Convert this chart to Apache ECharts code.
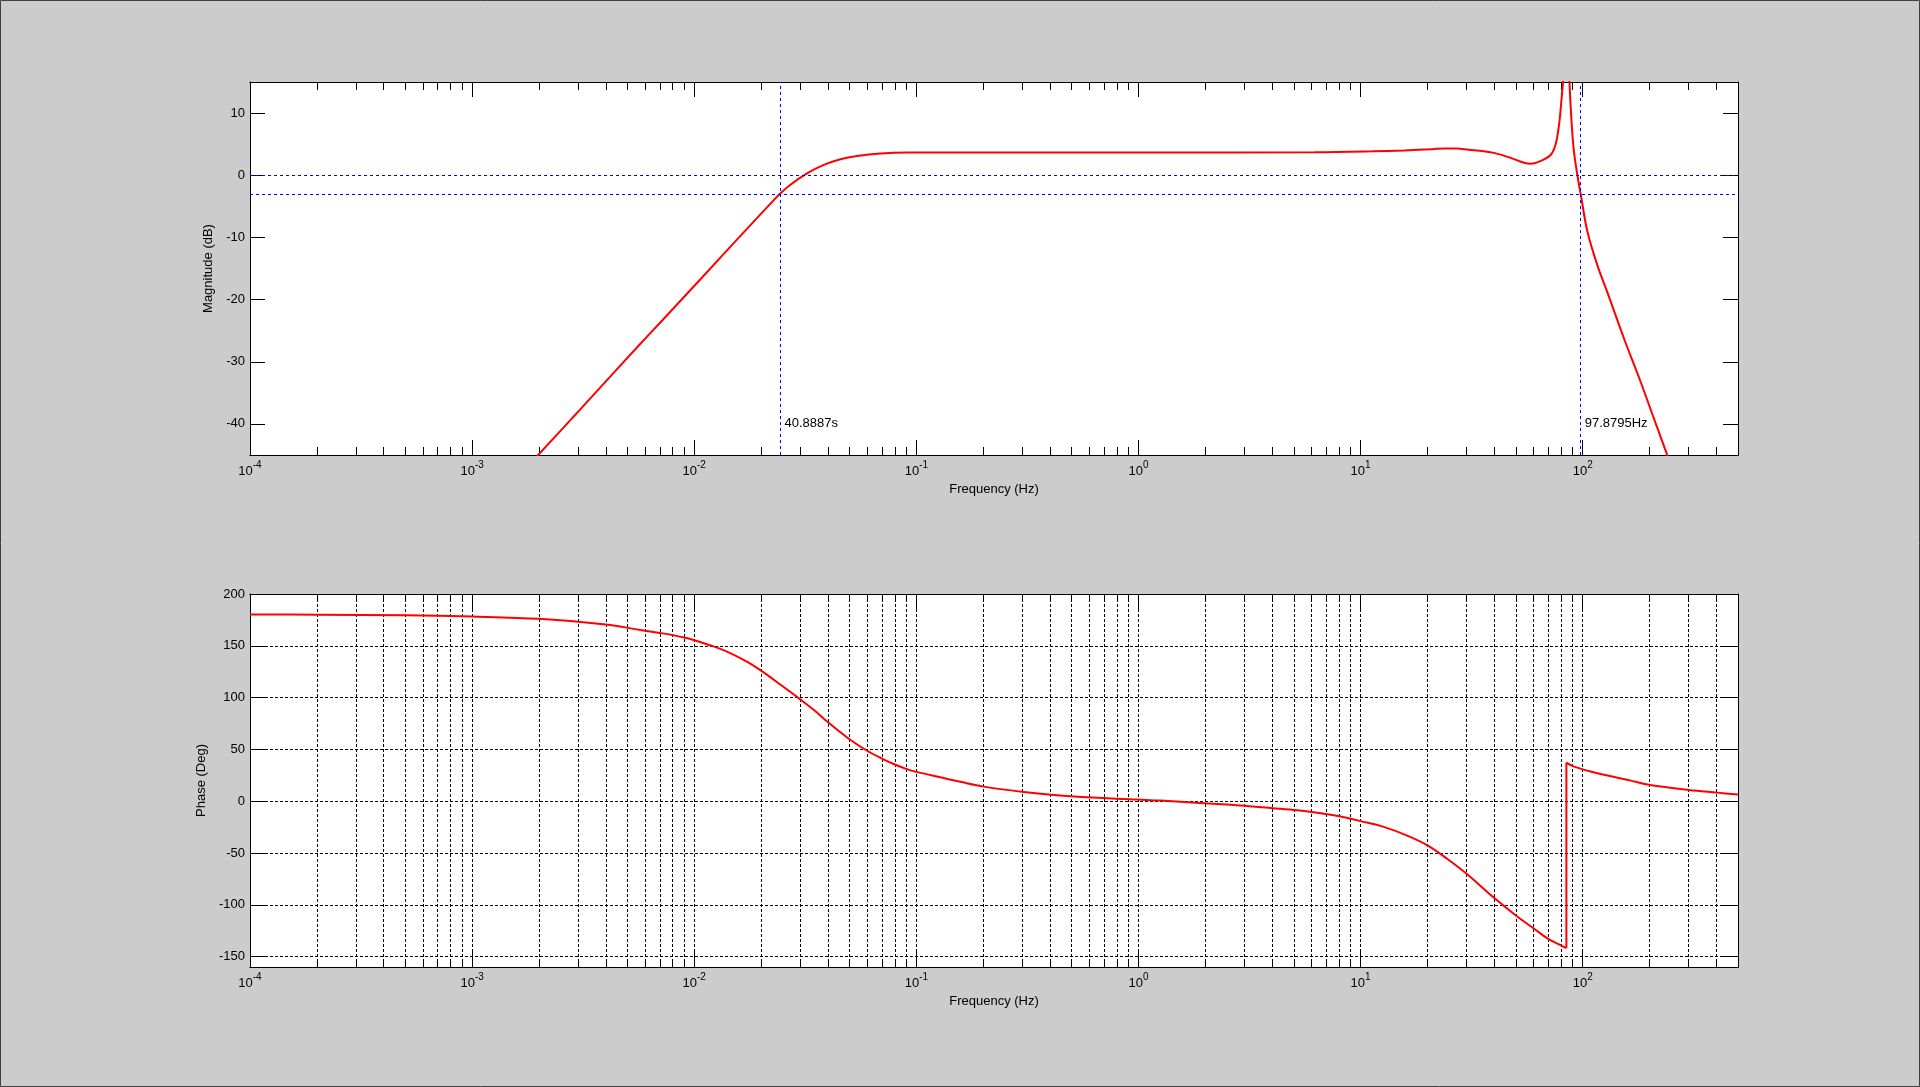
<!DOCTYPE html>
<html>
<head>
<meta charset="utf-8">
<script src="https://cdn.jsdelivr.net/npm/echarts@6/dist/echarts.min.js"></script>
<style>
html,body{margin:0;padding:0;background:#cccccc;}
#c{width:1920px;height:1087px;}
</style>
</head>
<body>
<div id="c"></div>
<script>
// ---------- data ----------
const decadeTicks = [1e-4, 1e-3, 1e-2, 1e-1, 1, 10, 100];
const minorMultipliers = [2, 3, 4, 5, 6, 7, 8, 9];
const magTicks = [-40, -30, -20, -10, 0, 10];
const phaseTicks = [-150, -100, -50, 0, 50, 100, 150, 200];

const freqMag = [0.00196, 0.00306, 0.00572, 0.00634, 0.00807, 0.0114, 0.0161, 0.0228, 0.02446, 0.027, 0.0322, 0.0383, 0.0455, 0.0541, 0.0689, 0.0908, 0.2, 1, 6.2, 11.3, 15.7, 21, 24, 27, 30.6, 35.9, 39.8, 47.4, 54.4, 58.5, 64.7, 71.8, 75.5, 78.2, 80.1, 81.5, 83.2, 84.4, 85.6, 87.1, 89.2, 91.3, 94.6, 97.88, 105, 116.4, 129, 153.5, 182.5, 209.4, 240.5, 250];
const magDb   = [-45.2, -37.7, -27.1, -25.4, -21.4, -15.6, -9.8, -4.0, -2.9, -1.56, 0.3, 1.66, 2.58, 3.1, 3.49, 3.65, 3.65, 3.65, 3.7, 3.85, 4.0, 4.2, 4.3, 4.3, 4.1, 3.85, 3.6, 2.8, 2.0, 1.85, 2.3, 3.3, 5.0, 8.1, 11.9, 15.2, 24, 30, 24, 15.2, 8.1, 3.8, 0, -3.0, -9.1, -14.5, -18.8, -26.3, -33.3, -39.2, -45.1, -47];

const freqPhase = [1e-4, 2e-4, 5e-4, 1e-3, 2e-3, 4e-3, 0.00572, 0.007, 0.008, 0.009, 0.01, 0.01222, 0.01452, 0.01726, 0.02, 0.0244, 0.03, 0.0345, 0.04, 0.05, 0.06, 0.07, 0.08, 0.09, 0.1, 0.128, 0.158, 0.201, 0.304, 0.511, 1, 1.26, 2.6, 4.03, 5.19, 7.33, 8.13, 10, 12.7, 16.2, 20, 24.5, 30, 40, 50, 60, 70, 80, 84.4, 84.4, 91.4, 116.4, 164.5, 201, 301, 404, 500];
const phaseDeg  = [180.3, 180, 179.5, 178.2, 176, 170.6, 165.3, 162.4, 160.3, 158.0, 155.4, 149.4, 143.0, 134.7, 126.0, 112.6, 98.3, 88.2, 76.2, 59.8, 48.7, 41.2, 35.4, 31.2, 28.3, 23.1, 18.7, 14.1, 9.0, 4.5, 1.6, 0.6, -3.5, -6.7, -8.7, -13.0, -14.8, -19.2, -24.8, -33.2, -42.6, -55.5, -70.0, -93.5, -110.3, -122.6, -132.9, -139.4, -141.8, 37.3, 33.4, 27, 19.9, 15.7, 10.9, 8.3, 6.4];

const refDb = [0, -3];
const cutPeriodSeconds = 40.8887;
const cutHighFreq = 97.8795;
const cutLabels = ['40.8887s', '97.8795Hz'];
const cutLabelDb = -40;

// ---------- chart ----------
const X_MIN = 1e-4, X_MAX = 500;
const FONT = 'Liberation Sans, Arial, Helvetica, sans-serif';
const minorTicks = [];
decadeTicks.forEach(d => minorMultipliers.forEach(m => {
  const v = m * d;
  if (v <= X_MAX) minorTicks.push(v);
}));
const cutLowFreq = 1 / cutPeriodSeconds;

const magPairs = freqMag.map((f, i) => [f, magDb[i]]);
const phasePairs = freqPhase.map((f, i) => [f, phaseDeg[i]]);
const jump = phasePairs.findIndex((p, i) => i + 1 < phasePairs.length && phasePairs[i + 1][0] === p[0]);
const phaseBefore = phasePairs.slice(0, jump + 1);
const phaseJump = phasePairs.slice(jump, jump + 2);
const phaseAfter = phasePairs.slice(jump + 1);

function decadeLabel(v) {
  const e = Math.round(Math.log10(v));
  return '{b|10}{s|' + e + '}';
}

function logAxis(grid, pos, ticks, len, withLabels, withSplit, name) {
  return {
    type: 'log', logBase: 10, gridIndex: grid, position: pos, min: X_MIN, max: X_MAX,
    axisLine: { show: true, onZero: false, lineStyle: { color: '#000', width: 1 } },
    axisTick: { show: true, inside: true, length: len, customValues: ticks, lineStyle: { color: '#000', width: 1 } },
    axisLabel: withLabels ? {
      show: true, customValues: ticks, formatter: decadeLabel, margin: 5,
      rich: {
        b: { fontSize: 13, lineHeight: 22, color: '#000', fontFamily: FONT },
        s: { fontSize: 10, lineHeight: 8, verticalAlign: 'top', color: '#000', fontFamily: FONT }
      }
    } : { show: false },
    splitLine: withSplit ? { show: true, lineStyle: { color: '#000', type: [3, 2], width: 1 } } : { show: false },
    minorTick: { show: false }, minorSplitLine: { show: false },
    name: name || '', nameLocation: 'middle', nameGap: 27.5,
    nameTextStyle: { fontSize: 13, color: '#000', fontFamily: FONT },
    silent: true
  };
}

function valAxis(grid, pos, min, max, ticks, withLabels, withSplit, name, gap) {
  return {
    type: 'value', gridIndex: grid, position: pos, min: min, max: max,
    axisLine: { show: true, onZero: false, lineStyle: { color: '#000', width: 1 } },
    axisTick: { show: true, inside: true, length: 15, customValues: ticks, lineStyle: { color: '#000', width: 1 } },
    axisLabel: withLabels ? { show: true, customValues: ticks, margin: 5, fontSize: 13, color: '#000', fontFamily: FONT } : { show: false },
    splitLine: withSplit ? { show: true, lineStyle: { color: '#000', type: [3, 2], width: 1 } } : { show: false },
    name: name || '', nameLocation: 'middle', nameGap: gap || 30,
    nameTextStyle: { fontSize: 13, color: '#000', fontFamily: FONT },
    silent: true
  };
}

function redLine(name, xi, yi, data, smooth) {
  return {
    name: name, type: 'line', xAxisIndex: xi, yAxisIndex: yi, data: data,
    showSymbol: false, symbol: 'none', clip: true, smooth: smooth,
    lineStyle: { color: '#ff0000', width: 2 }, itemStyle: { color: '#ff0000' }
  };
}

const chart = echarts.init(document.getElementById('c'), null, { renderer: 'canvas' });
const magSeries = redLine('Magnitude', 0, 0, magPairs, 0.35);
magSeries.markLine = {
  silent: true, symbol: 'none', precision: 8, label: { show: false },
  lineStyle: { color: '#0000ff', type: [3, 3], width: 1 },
  data: [
    { yAxis: refDb[0] }, { yAxis: refDb[1] },
    { xAxis: cutLowFreq }, { xAxis: cutHighFreq }
  ]
};
magSeries.markPoint = {
  silent: true, symbol: 'circle', symbolSize: 0,
  label: {
    show: true, position: 'right', distance: 4, formatter: p => p.name,
    fontSize: 13, color: '#000', fontFamily: FONT
  },
  data: [
    { name: cutLabels[0], coord: [cutLowFreq, cutLabelDb] },
    { name: cutLabels[1], coord: [cutHighFreq, cutLabelDb] }
  ]
};

chart.setOption({
  backgroundColor: '#cccccc',
  animation: false,
  textStyle: { fontFamily: FONT },
  graphic: [{
    type: 'rect', silent: true, z: 100,
    shape: { x: 0.5, y: 0.5, width: 1919, height: 1086 },
    style: { fill: null, stroke: '#404040', lineWidth: 1 }
  }],
  grid: [
    { left: 250, top: 82, width: 1488, height: 373, show: true, backgroundColor: '#ffffff', borderWidth: 0, containLabel: false },
    { left: 250, top: 594, width: 1488, height: 373, show: true, backgroundColor: '#ffffff', borderWidth: 0, containLabel: false }
  ],
  xAxis: [
    logAxis(0, 'bottom', decadeTicks, 15, true, false, 'Frequency (Hz)'),
    logAxis(0, 'bottom', minorTicks, 8, false, false),
    logAxis(0, 'top', decadeTicks, 15, false, false),
    logAxis(0, 'top', minorTicks, 8, false, false),
    logAxis(1, 'bottom', decadeTicks, 15, true, true, 'Frequency (Hz)'),
    logAxis(1, 'bottom', minorTicks, 8, false, true),
    logAxis(1, 'top', decadeTicks, 15, false, false),
    logAxis(1, 'top', minorTicks, 8, false, false)
  ],
  yAxis: [
    valAxis(0, 'left', -45, 15, magTicks, true, false, 'Magnitude (dB)', 25),
    valAxis(0, 'right', -45, 15, magTicks, false, false),
    valAxis(1, 'left', -160, 200, phaseTicks, true, true, 'Phase (Deg)', 32),
    valAxis(1, 'right', -160, 200, phaseTicks, false, false)
  ],
  series: [
    magSeries,
    redLine('Phase', 4, 2, phaseBefore, 0.35),
    redLine('Phase jump', 4, 2, phaseJump, false),
    redLine('Phase high', 4, 2, phaseAfter, 0.35)
  ]
});
</script>
</body>
</html>
